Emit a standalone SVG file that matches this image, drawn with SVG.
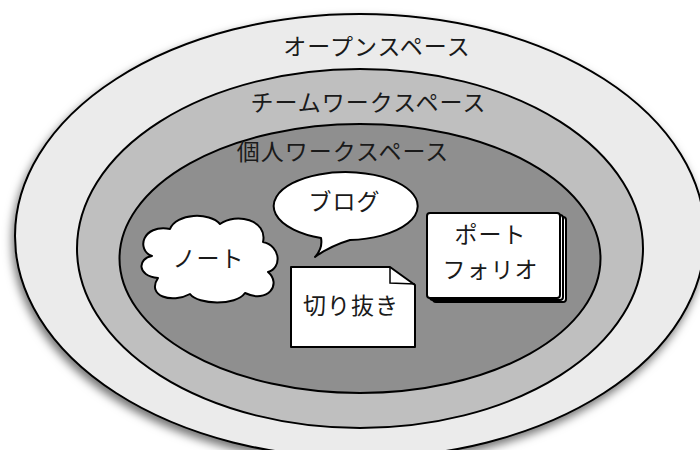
<svg xmlns="http://www.w3.org/2000/svg" width="700" height="450" viewBox="0 0 700 450">
<defs>
<filter id="sh" x="-10%" y="-10%" width="120%" height="130%">
<feDropShadow dx="-2" dy="5" stdDeviation="5" flood-color="#000" flood-opacity="0.55"/>
</filter>
</defs>
<style>
.ring{stroke:#000;stroke-width:2}
.node{fill:#fff;stroke:#000;stroke-width:2;stroke-linejoin:round}
text{font-family:"Noto Sans CJK JP","Noto Sans CJK SC",sans-serif;font-size:23px;letter-spacing:1px;fill:#1a1a1a;text-anchor:middle}
</style>
<rect width="700" height="450" fill="#fff"/>
<g id="open-space">
<ellipse class="ring" cx="360" cy="236" rx="345" ry="222" fill="#ebebeb" filter="url(#sh)"/>
<text x="377" y="55">オープンスペース</text>
</g>
<g id="team-space">
<ellipse class="ring" cx="360" cy="248.5" rx="283" ry="179.5" fill="#bfbfbf"/>
<text x="368.5" y="111">チームワークスペース</text>
</g>
<g id="personal-space">
<ellipse class="ring" cx="360" cy="258.5" rx="240.5" ry="134.5" fill="#8f8f8f"/>
<text x="343" y="160">個人ワークスペース</text>
</g>
<g id="note">
<path class="node" d="M152,256 C136,250 142,224 170,229 C176,213 210,212 220,224 C236,212 268,220 263,242 C281,246 282,268 268,272 C282,284 268,304 245,293 C236,306 198,305 190,294 C172,304 146,296 158,278 C136,276 138,258 152,256 Z"/>
<text x="208.5" y="267">ノート</text>
</g>
<g id="blog">
<path class="node" d="M321,238 A72,34 0 1 1 350,240 Q330,246 315,257 Q323,248 321,238 Z"/>
<text x="344.5" y="210">ブログ</text>
</g>
<g id="clipping">
<path class="node" d="M291,267 L390,267 L415,285 L415,347 L291,347 Z"/>
<path d="M390,267 L390,283 L415,284" fill="none" stroke="#000" stroke-width="1.5"/>
<text x="351" y="314">切り抜き</text>
</g>
<g id="portfolio">
<rect class="node" x="433" y="217" width="133" height="85" rx="3" stroke-width="1.5"/>
<rect class="node" x="430" y="215" width="133" height="85" rx="3" stroke-width="1.5"/>
<rect class="node" x="427" y="213" width="133" height="85" rx="3" stroke-width="1.5"/>
<text x="490.5" y="243">ポート</text>
<text x="490.5" y="278">フォリオ</text>
</g>
<g id="connectors"/>
</svg>
